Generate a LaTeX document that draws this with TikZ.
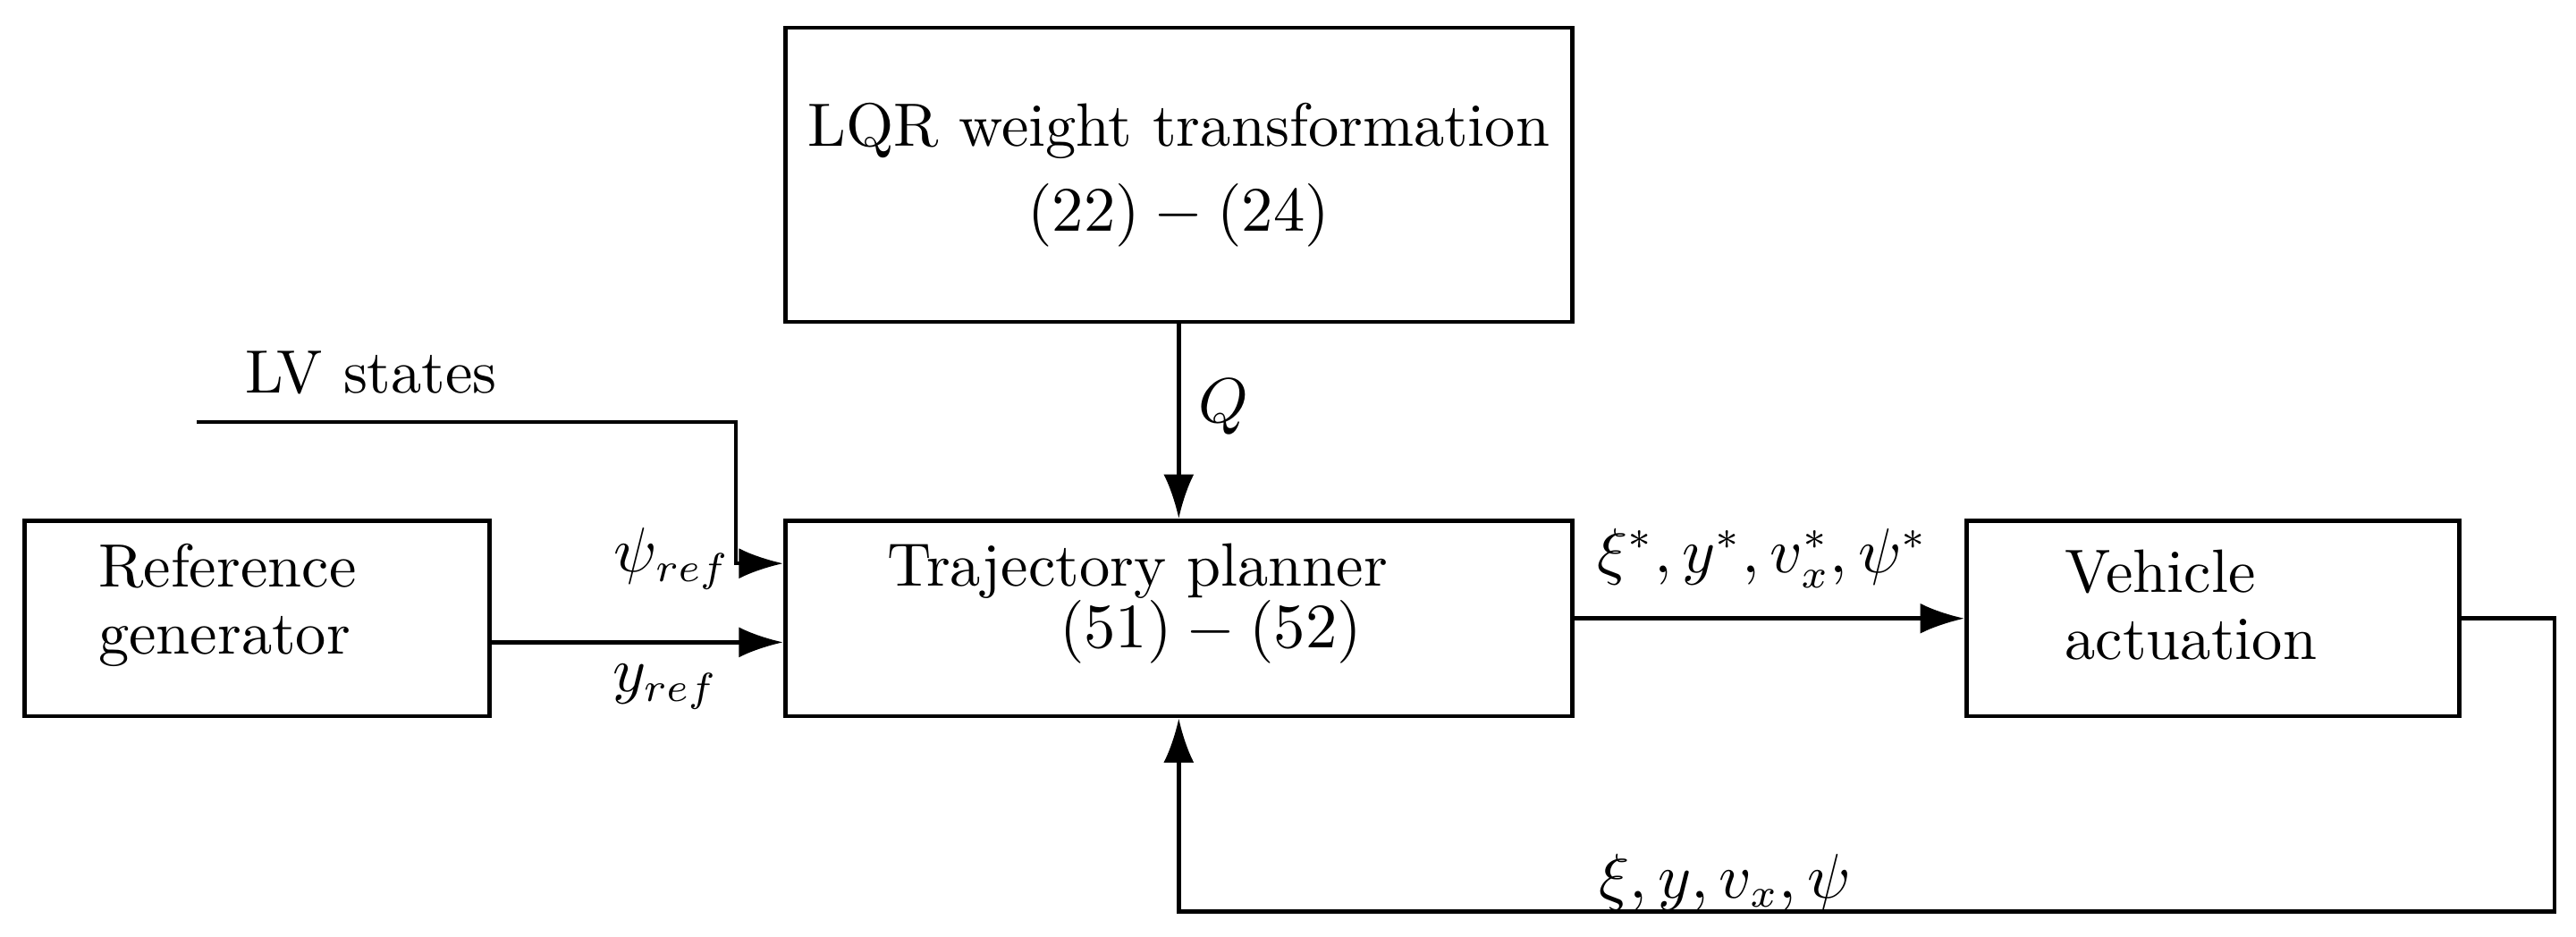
\documentclass[tikz,border=0pt]{standalone}
\usepackage{tikz}
\usetikzlibrary{arrows.meta}
\usetikzlibrary{positioning}

\begin{document}
\begin{tikzpicture}[
    every node/.style={font=\fontsize{10.6pt}{11.6pt}\selectfont},
    block/.style={draw,line width=0.7pt,minimum height=1.19cm,inner sep=0pt},
    blocktext/.style={inner sep=0pt,align=left},
    sig/.style={line width=0.7pt,-{Latex[length=2.7mm,width=1.85mm]}}
  ]
      \useasboundingbox (0,0) rectangle (15.68,5.70);

      % blocks
      \node[block,minimum width=4.79cm,minimum height=1.79cm,align=center] (lqr) at (7.175,4.635)
        {LQR weight transformation\\[3pt]$(22)-(24)$};
      \node[block,minimum width=4.79cm] (planner) at (7.175,1.935) {};
      \node[block,minimum width=2.83cm] (refgen) at (1.565,1.935) {};
      \node[block,minimum width=3.00cm] (vehicle) at (13.47,1.935) {};

      \node[blocktext,text width=3.55cm] (plannertxt) at ([yshift=0.9mm]planner.center)
        {Trajectory planner\\[-1pt]\hspace*{1.05cm}$(51)-(52)$};
      \node[blocktext,text width=1.93cm] (refgentxt) at ([yshift=0.8mm]refgen.center)
        {Reference\\generator};
      \node[blocktext,text width=1.80cm] (vehicletxt) at ([yshift=0.8mm]vehicle.center)
        {Vehicle\\actuation};

      % LV states input
      \node (lv) at (2.26,3.43) {LV states};
      \coordinate (lvin) at (1.20,3.13);
      \coordinate (lvbend) at (4.48,3.13);
      \draw[sig] (lvin) -- (lvbend) |- ([yshift=3.35mm]planner.west);
      \node[anchor=east,inner sep=0pt] (psiref) at (4.45,2.30) {$\psi_{ref}$};

      % reference signal
      \draw[sig] ([yshift=-1.45mm]refgen.east) -- ([yshift=-1.45mm]planner.west);
      \node (yref) at (4.05,1.52) {$y_{ref}$};

      % weights
      \draw[sig] (lqr) -- (planner);
      \node (q) at (7.45,3.22) {$Q$};

      % planner output
      \draw[sig] (planner) -- (vehicle);
      \node (opt) at (10.73,2.30) {$\xi^*, y^*, v_x^*, \psi^*$};

      % feedback
      \coordinate (fbcorner) at (15.55,0.15);
      \draw[sig] (vehicle.east) -| (fbcorner) -| (planner.south);
      \node (meas) at (10.50,0.33) {$\xi, y, v_x, \psi$};
    \end{tikzpicture}
\end{document}
